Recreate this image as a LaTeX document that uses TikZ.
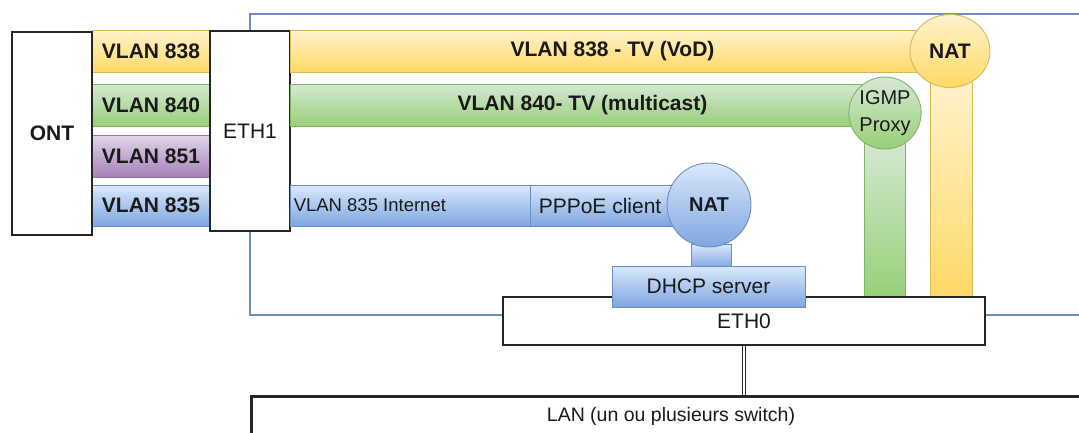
\documentclass[tikz,border=0pt]{standalone}
\usepackage{fontspec}
\setmainfont{Liberation Sans}
\usetikzlibrary{shapes.geometric}
\definecolor{ytop}{HTML}{FFF2CC}\definecolor{ybot}{HTML}{FFD966}\definecolor{ystr}{HTML}{D6B656}
\definecolor{gtop}{HTML}{D5E8D4}\definecolor{gbot}{HTML}{97D077}\definecolor{gstr}{HTML}{82B366}
\definecolor{ptop}{HTML}{E1D5E7}\definecolor{pbot}{HTML}{A680B8}\definecolor{pstr}{HTML}{9673A6}
\definecolor{btop}{HTML}{DAE8FC}\definecolor{bbot}{HTML}{7EA6E0}\definecolor{bstr}{HTML}{6C8EBF}
\definecolor{txt}{HTML}{1A1A1A}
\begin{document}
\begin{tikzpicture}[x=1pt,y=-1pt,
  every node/.style={inner sep=0pt, text=txt, font=\fontsize{21}{25}\selectfont},
  frame/.style={draw=bstr, line width=1.2pt},
  box/.style={draw=black!85, line width=1.6pt, fill=white},
  ybar/.style={draw=ystr, line width=0.9pt, top color=ytop, bottom color=ybot},
  gbar/.style={draw=gstr, line width=0.9pt, top color=gtop, bottom color=gbot},
  pbar/.style={draw=pstr, line width=0.9pt, top color=ptop, bottom color=pbot},
  bbar/.style={draw=bstr, line width=0.9pt, top color=btop, bottom color=bbot},
  lbl/.style={font=\fontsize{21}{25}\selectfont\bfseries},
  small/.style={font=\fontsize{18.5}{22}\selectfont}
]
\useasboundingbox (0,0) rectangle (1079,432);
% router frame
\node[frame, minimum width=850, minimum height=301] (router) at (675,164.5) {};
% small VLAN bars
\node[ybar, minimum width=118, minimum height=42, lbl] (v838) at (151,51) {VLAN 838};
\node[gbar, minimum width=118, minimum height=42, lbl] (v840) at (151,105) {VLAN 840};
\node[pbar, minimum width=118, minimum height=42, lbl] (v851) at (151,156) {VLAN 851};
\node[bbar, minimum width=118, minimum height=41, lbl] (v835) at (151,205.5) {VLAN 835};
% ONT and ETH1
\node[box, minimum width=80, minimum height=203, lbl] (ont) at (52,133.5) {ONT};
\node[box, minimum width=80, minimum height=200] (eth1) at (250,131) {ETH1};
% long bars
\node[ybar, minimum width=645, minimum height=42, lbl] (tv838) at (612.5,51) {VLAN 838 - TV (VoD)};
\node[gbar, minimum width=585, minimum height=42, lbl] (tv840) at (582.5,105) {VLAN 840- TV (multicast)};
% vertical bars
\node[ybar, minimum width=42, minimum height=220] (y838v) at (951,188) {};
\node[gbar, minimum width=41, minimum height=160] (g840v) at (884.5,218) {};
% circles
\node[ybar, ellipse, minimum width=80, minimum height=73, lbl] (nat1) at (950,51) {NAT};
\node[gbar, ellipse, minimum width=67, minimum height=72, align=center, font=\fontsize{20}{27}\selectfont] (igmp) at (885,113) {IGMP\\Proxy};
% internet path
\node[bbar, minimum width=240, minimum height=41] (inet) at (410,205.5) {};
\node[bbar, minimum width=170, minimum height=41] (pppoe) at (615,205.5) {};
\node[small, anchor=west] (inettxt) at ([xshift=4pt]inet.west) {VLAN 835 Internet};
\node[anchor=west] (pppoetxt) at ([xshift=9pt]pppoe.west) {PPPoE client};
\node[bbar, minimum width=40, minimum height=24] (link) at (711,256) {};
\node[bbar, circle, minimum size=84, lbl, font=\fontsize{20}{24}\selectfont\bfseries] (nat2) at (709,205) {NAT};
% ETH0 and DHCP
\node[box, minimum width=482, minimum height=48] (eth0) at (744,321) {ETH0};
\node[bbar, minimum width=193, minimum height=41] (dhcp) at (708.5,286.5) {DHCP server};
% LAN
\node[draw=black!85, line width=2.6pt, fill=white, minimum width=850, minimum height=46, anchor=north west] (lan) at (250,395) {};
\node[font=\fontsize{19.5}{23}\selectfont] (lantxt) at (671,416) {LAN (un ou plusieurs switch)};
\draw[double, double distance=2.5pt, line width=0.8pt, draw=black!85] (eth0.south) -- (eth0.south |- lan.north);
\end{tikzpicture}
\end{document}
